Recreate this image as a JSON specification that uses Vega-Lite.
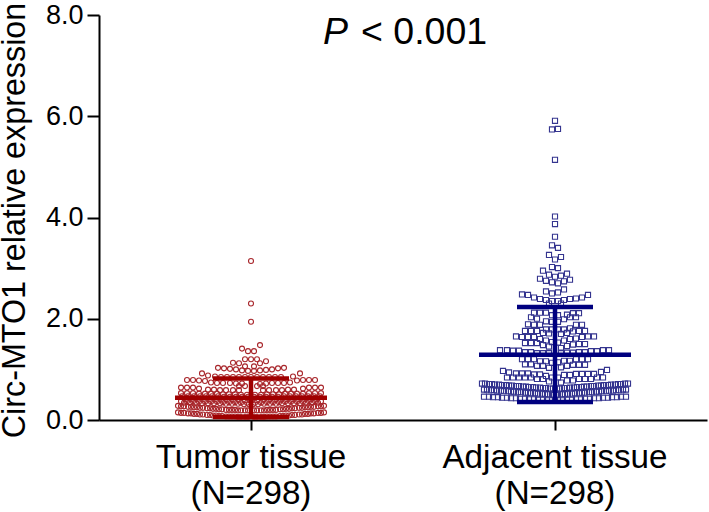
{"$schema":"https://vega.github.io/schema/vega-lite/v6.json","width":608,"height":405,"autosize":"none","padding":{"left":99,"top":15,"right":2,"bottom":92},"background":"white","config":{"view":{"stroke":null},"font":"Liberation Sans"},
"datasets":{
"tumor":[
{"g":"Tumor","d":0,"v":3.14},{"g":"Tumor","d":0,"v":2.3},{"g":"Tumor","d":0,"v":1.94},{"g":"Tumor","d":9,"v":1.48},{"g":"Tumor","d":-9,"v":1.41},{"g":"Tumor","d":-3,"v":1.36},{"g":"Tumor","d":3,"v":1.36},{"g":"Tumor","d":-6,"v":1.2},{"g":"Tumor","d":0,"v":1.2},{"g":"Tumor","d":6,"v":1.2},{"g":"Tumor","d":15,"v":1.16},{"g":"Tumor","d":-18,"v":1.13},{"g":"Tumor","d":-12,"v":1.12},{"g":"Tumor","d":9,"v":1.12},{"g":"Tumor","d":-6,"v":1.06},{"g":"Tumor","d":3,"v":1.06},
{"g":"Tumor","d":-33,"v":1.03},{"g":"Tumor","d":-27,"v":1.02},{"g":"Tumor","d":-21,"v":1.01},{"g":"Tumor","d":-15,"v":1.0},{"g":"Tumor","d":-9,"v":0.98},{"g":"Tumor","d":-3,"v":0.97},{"g":"Tumor","d":3,"v":0.97},{"g":"Tumor","d":9,"v":0.98},{"g":"Tumor","d":15,"v":0.99},{"g":"Tumor","d":21,"v":1.0},{"g":"Tumor","d":27,"v":1.02},{"g":"Tumor","d":33,"v":1.03},
{"g":"Tumor","d":-49,"v":0.92},{"g":"Tumor","d":-43,"v":0.88},{"g":"Tumor","d":-36,"v":0.86},{"g":"Tumor","d":42,"v":0.86},{"g":"Tumor","d":49,"v":0.92},
{"g":"Tumor","d":-30,"v":0.85},{"g":"Tumor","d":-24,"v":0.85},{"g":"Tumor","d":-18,"v":0.85},{"g":"Tumor","d":-12,"v":0.85},{"g":"Tumor","d":-6,"v":0.85},{"g":"Tumor","d":0,"v":0.85},{"g":"Tumor","d":6,"v":0.85},{"g":"Tumor","d":12,"v":0.85},{"g":"Tumor","d":18,"v":0.85},{"g":"Tumor","d":24,"v":0.85},{"g":"Tumor","d":30,"v":0.85},
{"g":"Tumor","d":-64,"v":0.79},{"g":"Tumor","d":-58,"v":0.79},{"g":"Tumor","d":-52,"v":0.78},{"g":"Tumor","d":-46,"v":0.77},{"g":"Tumor","d":-40,"v":0.74},{"g":"Tumor","d":-34,"v":0.73},{"g":"Tumor","d":-28,"v":0.73},{"g":"Tumor","d":-21,"v":0.73},{"g":"Tumor","d":-15,"v":0.72},{"g":"Tumor","d":-9,"v":0.72},{"g":"Tumor","d":64,"v":0.79},{"g":"Tumor","d":58,"v":0.79},{"g":"Tumor","d":52,"v":0.79},{"g":"Tumor","d":46,"v":0.78},{"g":"Tumor","d":39,"v":0.74},{"g":"Tumor","d":33,"v":0.73},{"g":"Tumor","d":27,"v":0.73},{"g":"Tumor","d":21,"v":0.73},{"g":"Tumor","d":15,"v":0.72},{"g":"Tumor","d":9,"v":0.71},
{"g":"Tumor","d":-70,"v":0.64},{"g":"Tumor","d":-64,"v":0.64},{"g":"Tumor","d":-58,"v":0.64},{"g":"Tumor","d":-52,"v":0.62},{"g":"Tumor","d":-43,"v":0.6},{"g":"Tumor","d":-37,"v":0.6},{"g":"Tumor","d":-31,"v":0.59},{"g":"Tumor","d":-25,"v":0.59},{"g":"Tumor","d":-18,"v":0.59},{"g":"Tumor","d":-12,"v":0.59},{"g":"Tumor","d":70,"v":0.64},{"g":"Tumor","d":64,"v":0.64},{"g":"Tumor","d":58,"v":0.64},{"g":"Tumor","d":52,"v":0.62},{"g":"Tumor","d":43,"v":0.6},{"g":"Tumor","d":37,"v":0.6},{"g":"Tumor","d":31,"v":0.59},{"g":"Tumor","d":25,"v":0.59},{"g":"Tumor","d":18,"v":0.59},{"g":"Tumor","d":12,"v":0.59},{"g":"Tumor","d":-12,"v":0.67},{"g":"Tumor","d":-6,"v":0.67},{"g":"Tumor","d":6,"v":0.67},{"g":"Tumor","d":12,"v":0.67},
{"g":"Tumor","d":-70,"v":0.53},{"g":"Tumor","d":-64,"v":0.53},{"g":"Tumor","d":-58,"v":0.53},{"g":"Tumor","d":-52,"v":0.52},{"g":"Tumor","d":-46,"v":0.52},{"g":"Tumor","d":-40,"v":0.52},{"g":"Tumor","d":-34,"v":0.52},{"g":"Tumor","d":-28,"v":0.51},{"g":"Tumor","d":-22,"v":0.51},{"g":"Tumor","d":-16,"v":0.51},{"g":"Tumor","d":-10,"v":0.5},{"g":"Tumor","d":-4,"v":0.5},{"g":"Tumor","d":70,"v":0.53},{"g":"Tumor","d":64,"v":0.53},{"g":"Tumor","d":58,"v":0.53},{"g":"Tumor","d":52,"v":0.52},{"g":"Tumor","d":46,"v":0.52},{"g":"Tumor","d":40,"v":0.52},{"g":"Tumor","d":34,"v":0.52},{"g":"Tumor","d":28,"v":0.51},{"g":"Tumor","d":22,"v":0.51},{"g":"Tumor","d":16,"v":0.51},{"g":"Tumor","d":10,"v":0.5},{"g":"Tumor","d":4,"v":0.5},
{"g":"Tumor","d":-69,"v":0.47},{"g":"Tumor","d":-63,"v":0.47},{"g":"Tumor","d":-57,"v":0.47},{"g":"Tumor","d":-51,"v":0.47},{"g":"Tumor","d":-45,"v":0.47},{"g":"Tumor","d":-39,"v":0.47},{"g":"Tumor","d":-33,"v":0.47},{"g":"Tumor","d":-27,"v":0.46},{"g":"Tumor","d":-21,"v":0.46},{"g":"Tumor","d":-15,"v":0.46},{"g":"Tumor","d":-9,"v":0.46},{"g":"Tumor","d":-3,"v":0.46},{"g":"Tumor","d":69,"v":0.47},{"g":"Tumor","d":63,"v":0.47},{"g":"Tumor","d":57,"v":0.47},{"g":"Tumor","d":51,"v":0.47},{"g":"Tumor","d":45,"v":0.47},{"g":"Tumor","d":39,"v":0.47},{"g":"Tumor","d":33,"v":0.47},{"g":"Tumor","d":27,"v":0.46},{"g":"Tumor","d":21,"v":0.46},{"g":"Tumor","d":15,"v":0.46},{"g":"Tumor","d":9,"v":0.46},{"g":"Tumor","d":3,"v":0.46},
{"g":"Tumor","d":-66,"v":0.41},{"g":"Tumor","d":-60,"v":0.41},{"g":"Tumor","d":-54,"v":0.41},{"g":"Tumor","d":-48,"v":0.41},{"g":"Tumor","d":-42,"v":0.41},{"g":"Tumor","d":-36,"v":0.41},{"g":"Tumor","d":-30,"v":0.4},{"g":"Tumor","d":-24,"v":0.4},{"g":"Tumor","d":-18,"v":0.4},{"g":"Tumor","d":-12,"v":0.4},{"g":"Tumor","d":-6,"v":0.39},{"g":"Tumor","d":-1,"v":0.39},{"g":"Tumor","d":66,"v":0.41},{"g":"Tumor","d":60,"v":0.41},{"g":"Tumor","d":54,"v":0.41},{"g":"Tumor","d":48,"v":0.41},{"g":"Tumor","d":42,"v":0.41},{"g":"Tumor","d":36,"v":0.41},{"g":"Tumor","d":30,"v":0.4},{"g":"Tumor","d":24,"v":0.4},{"g":"Tumor","d":18,"v":0.4},{"g":"Tumor","d":12,"v":0.4},{"g":"Tumor","d":6,"v":0.39},{"g":"Tumor","d":1,"v":0.39},
{"g":"Tumor","d":-70,"v":0.37},{"g":"Tumor","d":-64,"v":0.37},{"g":"Tumor","d":-58,"v":0.37},{"g":"Tumor","d":-52,"v":0.36},{"g":"Tumor","d":-46,"v":0.36},{"g":"Tumor","d":-40,"v":0.36},{"g":"Tumor","d":-34,"v":0.36},{"g":"Tumor","d":-28,"v":0.35},{"g":"Tumor","d":-22,"v":0.35},{"g":"Tumor","d":-16,"v":0.35},{"g":"Tumor","d":-10,"v":0.34},{"g":"Tumor","d":-4,"v":0.34},{"g":"Tumor","d":70,"v":0.37},{"g":"Tumor","d":64,"v":0.37},{"g":"Tumor","d":58,"v":0.37},{"g":"Tumor","d":52,"v":0.36},{"g":"Tumor","d":46,"v":0.36},{"g":"Tumor","d":40,"v":0.36},{"g":"Tumor","d":34,"v":0.36},{"g":"Tumor","d":28,"v":0.35},{"g":"Tumor","d":22,"v":0.35},{"g":"Tumor","d":16,"v":0.35},{"g":"Tumor","d":10,"v":0.34},{"g":"Tumor","d":4,"v":0.34},
{"g":"Tumor","d":-67,"v":0.34},{"g":"Tumor","d":-61,"v":0.34},{"g":"Tumor","d":-55,"v":0.34},{"g":"Tumor","d":-49,"v":0.33},{"g":"Tumor","d":-43,"v":0.33},{"g":"Tumor","d":-37,"v":0.33},{"g":"Tumor","d":-31,"v":0.33},{"g":"Tumor","d":-25,"v":0.32},{"g":"Tumor","d":-19,"v":0.32},{"g":"Tumor","d":-13,"v":0.32},{"g":"Tumor","d":-7,"v":0.31},{"g":"Tumor","d":-2,"v":0.31},{"g":"Tumor","d":67,"v":0.34},{"g":"Tumor","d":61,"v":0.34},{"g":"Tumor","d":55,"v":0.34},{"g":"Tumor","d":49,"v":0.33},{"g":"Tumor","d":43,"v":0.33},{"g":"Tumor","d":37,"v":0.33},{"g":"Tumor","d":31,"v":0.33},{"g":"Tumor","d":25,"v":0.32},{"g":"Tumor","d":19,"v":0.32},{"g":"Tumor","d":13,"v":0.32},{"g":"Tumor","d":7,"v":0.31},{"g":"Tumor","d":2,"v":0.31},
{"g":"Tumor","d":-73,"v":0.28},{"g":"Tumor","d":-70,"v":0.27},{"g":"Tumor","d":-67,"v":0.27},{"g":"Tumor","d":-63,"v":0.26},{"g":"Tumor","d":-60,"v":0.26},{"g":"Tumor","d":-57,"v":0.25},{"g":"Tumor","d":-54,"v":0.25},{"g":"Tumor","d":-51,"v":0.24},{"g":"Tumor","d":-48,"v":0.24},{"g":"Tumor","d":-44,"v":0.23},{"g":"Tumor","d":-41,"v":0.23},{"g":"Tumor","d":-38,"v":0.22},{"g":"Tumor","d":-35,"v":0.22},{"g":"Tumor","d":-32,"v":0.21},{"g":"Tumor","d":-29,"v":0.21},{"g":"Tumor","d":-25,"v":0.2},{"g":"Tumor","d":-22,"v":0.2},{"g":"Tumor","d":-19,"v":0.2},{"g":"Tumor","d":-16,"v":0.2},{"g":"Tumor","d":-13,"v":0.19},{"g":"Tumor","d":-10,"v":0.19},{"g":"Tumor","d":-6,"v":0.19},{"g":"Tumor","d":-3,"v":0.19},
{"g":"Tumor","d":73,"v":0.28},{"g":"Tumor","d":70,"v":0.27},{"g":"Tumor","d":67,"v":0.27},{"g":"Tumor","d":63,"v":0.26},{"g":"Tumor","d":60,"v":0.26},{"g":"Tumor","d":57,"v":0.25},{"g":"Tumor","d":54,"v":0.25},{"g":"Tumor","d":51,"v":0.24},{"g":"Tumor","d":48,"v":0.24},{"g":"Tumor","d":44,"v":0.23},{"g":"Tumor","d":41,"v":0.23},{"g":"Tumor","d":38,"v":0.22},{"g":"Tumor","d":35,"v":0.22},{"g":"Tumor","d":32,"v":0.21},{"g":"Tumor","d":29,"v":0.21},{"g":"Tumor","d":25,"v":0.2},{"g":"Tumor","d":22,"v":0.2},{"g":"Tumor","d":19,"v":0.2},{"g":"Tumor","d":16,"v":0.2},{"g":"Tumor","d":13,"v":0.19},{"g":"Tumor","d":10,"v":0.19},{"g":"Tumor","d":6,"v":0.19},{"g":"Tumor","d":3,"v":0.19},
{"g":"Tumor","d":-73,"v":0.15},{"g":"Tumor","d":-70,"v":0.14},{"g":"Tumor","d":-67,"v":0.14},{"g":"Tumor","d":-63,"v":0.13},{"g":"Tumor","d":-60,"v":0.13},{"g":"Tumor","d":-57,"v":0.12},{"g":"Tumor","d":-54,"v":0.12},{"g":"Tumor","d":-51,"v":0.11},{"g":"Tumor","d":-48,"v":0.11},{"g":"Tumor","d":-44,"v":0.1},{"g":"Tumor","d":-41,"v":0.1},{"g":"Tumor","d":-38,"v":0.09},{"g":"Tumor","d":-35,"v":0.09},{"g":"Tumor","d":-32,"v":0.08},{"g":"Tumor","d":-29,"v":0.08},{"g":"Tumor","d":-25,"v":0.07},{"g":"Tumor","d":-22,"v":0.07},{"g":"Tumor","d":-19,"v":0.07},{"g":"Tumor","d":-16,"v":0.07},{"g":"Tumor","d":-13,"v":0.06},{"g":"Tumor","d":-10,"v":0.06},{"g":"Tumor","d":-6,"v":0.06},{"g":"Tumor","d":-3,"v":0.06},
{"g":"Tumor","d":73,"v":0.15},{"g":"Tumor","d":70,"v":0.14},{"g":"Tumor","d":67,"v":0.14},{"g":"Tumor","d":63,"v":0.13},{"g":"Tumor","d":60,"v":0.13},{"g":"Tumor","d":57,"v":0.12},{"g":"Tumor","d":54,"v":0.12},{"g":"Tumor","d":51,"v":0.11},{"g":"Tumor","d":48,"v":0.11},{"g":"Tumor","d":44,"v":0.1},{"g":"Tumor","d":41,"v":0.1},{"g":"Tumor","d":38,"v":0.09},{"g":"Tumor","d":35,"v":0.09},{"g":"Tumor","d":32,"v":0.08},{"g":"Tumor","d":29,"v":0.08},{"g":"Tumor","d":25,"v":0.07},{"g":"Tumor","d":22,"v":0.07},{"g":"Tumor","d":19,"v":0.07},{"g":"Tumor","d":16,"v":0.07},{"g":"Tumor","d":13,"v":0.06},{"g":"Tumor","d":10,"v":0.06},{"g":"Tumor","d":6,"v":0.06},{"g":"Tumor","d":3,"v":0.06}
],
"adjacent":[
{"g":"Adjacent","d":0,"v":5.91},{"g":"Adjacent","d":3,"v":5.75},{"g":"Adjacent","d":-3,"v":5.74},{"g":"Adjacent","d":0,"v":5.14},{"g":"Adjacent","d":0,"v":4.02},{"g":"Adjacent","d":0,"v":3.87},{"g":"Adjacent","d":0,"v":3.62},{"g":"Adjacent","d":-3,"v":3.45},{"g":"Adjacent","d":3,"v":3.4},{"g":"Adjacent","d":-6,"v":3.26},{"g":"Adjacent","d":6,"v":3.22},{"g":"Adjacent","d":0,"v":3.17},{"g":"Adjacent","d":-3,"v":3.02},{"g":"Adjacent","d":3,"v":3.0},{"g":"Adjacent","d":-12,"v":2.95},{"g":"Adjacent","d":-6,"v":2.87},{"g":"Adjacent","d":12,"v":2.89},{"g":"Adjacent","d":0,"v":2.83},{"g":"Adjacent","d":6,"v":2.85},
{"g":"Adjacent","d":-15,"v":2.79},{"g":"Adjacent","d":-9,"v":2.75},{"g":"Adjacent","d":-3,"v":2.72},{"g":"Adjacent","d":3,"v":2.7},{"g":"Adjacent","d":9,"v":2.74},{"g":"Adjacent","d":15,"v":2.77},{"g":"Adjacent","d":9,"v":2.58},{"g":"Adjacent","d":-9,"v":2.54},{"g":"Adjacent","d":-3,"v":2.5},{"g":"Adjacent","d":3,"v":2.52},
{"g":"Adjacent","d":-33,"v":2.48},{"g":"Adjacent","d":-27,"v":2.47},{"g":"Adjacent","d":-21,"v":2.42},{"g":"Adjacent","d":-15,"v":2.39},{"g":"Adjacent","d":-9,"v":2.37},{"g":"Adjacent","d":-3,"v":2.35},{"g":"Adjacent","d":3,"v":2.35},{"g":"Adjacent","d":9,"v":2.37},{"g":"Adjacent","d":15,"v":2.39},{"g":"Adjacent","d":21,"v":2.4},{"g":"Adjacent","d":27,"v":2.42},{"g":"Adjacent","d":33,"v":2.47},{"g":"Adjacent","d":-6,"v":2.3},{"g":"Adjacent","d":6,"v":2.3},
{"g":"Adjacent","d":-21,"v":2.12},{"g":"Adjacent","d":-15,"v":2.12},{"g":"Adjacent","d":-9,"v":2.12},{"g":"Adjacent","d":-3,"v":2.07},{"g":"Adjacent","d":3,"v":2.07},{"g":"Adjacent","d":18,"v":2.11},{"g":"Adjacent","d":24,"v":2.11},{"g":"Adjacent","d":12,"v":2.08},{"g":"Adjacent","d":-24,"v":2.03},{"g":"Adjacent","d":-18,"v":2.0},{"g":"Adjacent","d":15,"v":2.03},{"g":"Adjacent","d":21,"v":2.03},{"g":"Adjacent","d":9,"v":1.99},{"g":"Adjacent","d":-9,"v":1.95},{"g":"Adjacent","d":-3,"v":1.94},{"g":"Adjacent","d":3,"v":1.94},{"g":"Adjacent","d":-27,"v":1.89},{"g":"Adjacent","d":-21,"v":1.88},{"g":"Adjacent","d":-15,"v":1.88},{"g":"Adjacent","d":21,"v":1.88},{"g":"Adjacent","d":27,"v":1.88},
{"g":"Adjacent","d":-9,"v":1.79},{"g":"Adjacent","d":-3,"v":1.79},{"g":"Adjacent","d":3,"v":1.79},{"g":"Adjacent","d":15,"v":1.81},{"g":"Adjacent","d":9,"v":1.79},{"g":"Adjacent","d":-30,"v":1.76},{"g":"Adjacent","d":-24,"v":1.76},{"g":"Adjacent","d":-18,"v":1.76},{"g":"Adjacent","d":-12,"v":1.72},{"g":"Adjacent","d":-6,"v":1.71},{"g":"Adjacent","d":6,"v":1.7},{"g":"Adjacent","d":12,"v":1.72},{"g":"Adjacent","d":18,"v":1.75},{"g":"Adjacent","d":24,"v":1.76},{"g":"Adjacent","d":30,"v":1.76},
{"g":"Adjacent","d":-39,"v":1.65},{"g":"Adjacent","d":-33,"v":1.64},{"g":"Adjacent","d":-27,"v":1.64},{"g":"Adjacent","d":-21,"v":1.64},{"g":"Adjacent","d":-15,"v":1.6},{"g":"Adjacent","d":-9,"v":1.57},{"g":"Adjacent","d":-3,"v":1.54},{"g":"Adjacent","d":3,"v":1.53},{"g":"Adjacent","d":9,"v":1.57},{"g":"Adjacent","d":15,"v":1.6},{"g":"Adjacent","d":21,"v":1.61},{"g":"Adjacent","d":27,"v":1.64},{"g":"Adjacent","d":33,"v":1.65},{"g":"Adjacent","d":39,"v":1.65},
{"g":"Adjacent","d":-30,"v":1.52},{"g":"Adjacent","d":-24,"v":1.52},{"g":"Adjacent","d":-18,"v":1.52},{"g":"Adjacent","d":-12,"v":1.48},{"g":"Adjacent","d":-6,"v":1.45},{"g":"Adjacent","d":6,"v":1.42},{"g":"Adjacent","d":12,"v":1.46},{"g":"Adjacent","d":18,"v":1.49},{"g":"Adjacent","d":24,"v":1.5},{"g":"Adjacent","d":30,"v":1.5},
{"g":"Adjacent","d":-55,"v":1.38},{"g":"Adjacent","d":-48,"v":1.38},{"g":"Adjacent","d":-42,"v":1.37},{"g":"Adjacent","d":-36,"v":1.37},{"g":"Adjacent","d":-30,"v":1.34},{"g":"Adjacent","d":-24,"v":1.34},{"g":"Adjacent","d":-18,"v":1.32},{"g":"Adjacent","d":-12,"v":1.32},{"g":"Adjacent","d":-6,"v":1.32},{"g":"Adjacent","d":6,"v":1.33},{"g":"Adjacent","d":12,"v":1.33},{"g":"Adjacent","d":18,"v":1.33},{"g":"Adjacent","d":24,"v":1.34},{"g":"Adjacent","d":30,"v":1.34},{"g":"Adjacent","d":36,"v":1.36},{"g":"Adjacent","d":42,"v":1.36},{"g":"Adjacent","d":48,"v":1.38},{"g":"Adjacent","d":54,"v":1.38},
{"g":"Adjacent","d":-33,"v":1.2},{"g":"Adjacent","d":-27,"v":1.2},{"g":"Adjacent","d":-21,"v":1.2},{"g":"Adjacent","d":-15,"v":1.16},{"g":"Adjacent","d":-9,"v":1.16},{"g":"Adjacent","d":-3,"v":1.13},{"g":"Adjacent","d":3,"v":1.14},{"g":"Adjacent","d":9,"v":1.17},{"g":"Adjacent","d":15,"v":1.17},{"g":"Adjacent","d":21,"v":1.2},{"g":"Adjacent","d":27,"v":1.2},{"g":"Adjacent","d":33,"v":1.2},
{"g":"Adjacent","d":-30,"v":1.1},{"g":"Adjacent","d":-24,"v":1.1},{"g":"Adjacent","d":-18,"v":1.07},{"g":"Adjacent","d":-12,"v":1.07},{"g":"Adjacent","d":-6,"v":1.03},{"g":"Adjacent","d":6,"v":1.04},{"g":"Adjacent","d":12,"v":1.07},{"g":"Adjacent","d":18,"v":1.09},{"g":"Adjacent","d":24,"v":1.09},{"g":"Adjacent","d":30,"v":1.09},
{"g":"Adjacent","d":-52,"v":0.97},{"g":"Adjacent","d":-46,"v":0.94},{"g":"Adjacent","d":-39,"v":0.92},{"g":"Adjacent","d":-33,"v":0.92},{"g":"Adjacent","d":-27,"v":0.92},{"g":"Adjacent","d":-21,"v":0.9},{"g":"Adjacent","d":-15,"v":0.9},{"g":"Adjacent","d":-9,"v":0.87},{"g":"Adjacent","d":-3,"v":0.84},{"g":"Adjacent","d":3,"v":0.84},{"g":"Adjacent","d":9,"v":0.89},{"g":"Adjacent","d":15,"v":0.89},{"g":"Adjacent","d":21,"v":0.91},{"g":"Adjacent","d":27,"v":0.91},{"g":"Adjacent","d":33,"v":0.91},{"g":"Adjacent","d":39,"v":0.91},{"g":"Adjacent","d":46,"v":0.95},{"g":"Adjacent","d":52,"v":0.99},
{"g":"Adjacent","d":-48,"v":0.84},{"g":"Adjacent","d":-42,"v":0.84},{"g":"Adjacent","d":-36,"v":0.84},{"g":"Adjacent","d":-30,"v":0.84},{"g":"Adjacent","d":-24,"v":0.84},{"g":"Adjacent","d":-18,"v":0.81},{"g":"Adjacent","d":-12,"v":0.81},{"g":"Adjacent","d":-6,"v":0.76},{"g":"Adjacent","d":6,"v":0.74},{"g":"Adjacent","d":12,"v":0.78},{"g":"Adjacent","d":18,"v":0.78},{"g":"Adjacent","d":24,"v":0.81},{"g":"Adjacent","d":30,"v":0.81},{"g":"Adjacent","d":36,"v":0.81},{"g":"Adjacent","d":42,"v":0.84},{"g":"Adjacent","d":48,"v":0.84},
{"g":"Adjacent","d":-73,"v":0.72},{"g":"Adjacent","d":-70,"v":0.72},{"g":"Adjacent","d":-66,"v":0.71},{"g":"Adjacent","d":-63,"v":0.71},{"g":"Adjacent","d":-60,"v":0.7},{"g":"Adjacent","d":-56,"v":0.7},{"g":"Adjacent","d":-53,"v":0.69},{"g":"Adjacent","d":-49,"v":0.69},{"g":"Adjacent","d":-46,"v":0.68},{"g":"Adjacent","d":-43,"v":0.68},{"g":"Adjacent","d":-39,"v":0.67},{"g":"Adjacent","d":-36,"v":0.67},{"g":"Adjacent","d":-32,"v":0.66},{"g":"Adjacent","d":-29,"v":0.66},{"g":"Adjacent","d":-26,"v":0.65},{"g":"Adjacent","d":-22,"v":0.65},{"g":"Adjacent","d":-19,"v":0.64},{"g":"Adjacent","d":-15,"v":0.64},{"g":"Adjacent","d":-12,"v":0.63},{"g":"Adjacent","d":-9,"v":0.63},{"g":"Adjacent","d":-5,"v":0.62},{"g":"Adjacent","d":-2,"v":0.62},
{"g":"Adjacent","d":73,"v":0.72},{"g":"Adjacent","d":70,"v":0.72},{"g":"Adjacent","d":66,"v":0.71},{"g":"Adjacent","d":63,"v":0.71},{"g":"Adjacent","d":60,"v":0.7},{"g":"Adjacent","d":56,"v":0.7},{"g":"Adjacent","d":53,"v":0.69},{"g":"Adjacent","d":49,"v":0.69},{"g":"Adjacent","d":46,"v":0.68},{"g":"Adjacent","d":43,"v":0.68},{"g":"Adjacent","d":39,"v":0.67},{"g":"Adjacent","d":36,"v":0.67},{"g":"Adjacent","d":32,"v":0.66},{"g":"Adjacent","d":29,"v":0.66},{"g":"Adjacent","d":26,"v":0.65},{"g":"Adjacent","d":22,"v":0.65},{"g":"Adjacent","d":19,"v":0.64},{"g":"Adjacent","d":15,"v":0.64},{"g":"Adjacent","d":12,"v":0.63},{"g":"Adjacent","d":9,"v":0.63},{"g":"Adjacent","d":5,"v":0.62},{"g":"Adjacent","d":2,"v":0.62},
{"g":"Adjacent","d":-71,"v":0.6},{"g":"Adjacent","d":-68,"v":0.6},{"g":"Adjacent","d":-64,"v":0.59},{"g":"Adjacent","d":-61,"v":0.59},{"g":"Adjacent","d":-58,"v":0.58},{"g":"Adjacent","d":-54,"v":0.58},{"g":"Adjacent","d":-51,"v":0.57},{"g":"Adjacent","d":-47,"v":0.57},{"g":"Adjacent","d":-44,"v":0.56},{"g":"Adjacent","d":-41,"v":0.56},{"g":"Adjacent","d":-37,"v":0.55},{"g":"Adjacent","d":-34,"v":0.55},{"g":"Adjacent","d":-30,"v":0.54},{"g":"Adjacent","d":-27,"v":0.54},{"g":"Adjacent","d":-24,"v":0.53},{"g":"Adjacent","d":-20,"v":0.53},{"g":"Adjacent","d":-17,"v":0.52},{"g":"Adjacent","d":-13,"v":0.52},{"g":"Adjacent","d":-10,"v":0.51},{"g":"Adjacent","d":-7,"v":0.51},{"g":"Adjacent","d":-3,"v":0.5},{"g":"Adjacent","d":-1,"v":0.5},
{"g":"Adjacent","d":71,"v":0.6},{"g":"Adjacent","d":68,"v":0.6},{"g":"Adjacent","d":64,"v":0.59},{"g":"Adjacent","d":61,"v":0.59},{"g":"Adjacent","d":58,"v":0.58},{"g":"Adjacent","d":54,"v":0.58},{"g":"Adjacent","d":51,"v":0.57},{"g":"Adjacent","d":47,"v":0.57},{"g":"Adjacent","d":44,"v":0.56},{"g":"Adjacent","d":41,"v":0.56},{"g":"Adjacent","d":37,"v":0.55},{"g":"Adjacent","d":34,"v":0.55},{"g":"Adjacent","d":30,"v":0.54},{"g":"Adjacent","d":27,"v":0.54},{"g":"Adjacent","d":24,"v":0.53},{"g":"Adjacent","d":20,"v":0.53},{"g":"Adjacent","d":17,"v":0.52},{"g":"Adjacent","d":13,"v":0.52},{"g":"Adjacent","d":10,"v":0.51},{"g":"Adjacent","d":7,"v":0.51},{"g":"Adjacent","d":3,"v":0.5},{"g":"Adjacent","d":1,"v":0.5},
{"g":"Adjacent","d":-71,"v":0.46},{"g":"Adjacent","d":-66,"v":0.46},{"g":"Adjacent","d":-62,"v":0.45},{"g":"Adjacent","d":-57,"v":0.45},{"g":"Adjacent","d":-53,"v":0.44},{"g":"Adjacent","d":-48,"v":0.44},{"g":"Adjacent","d":-44,"v":0.43},{"g":"Adjacent","d":-39,"v":0.43},{"g":"Adjacent","d":-35,"v":0.42},{"g":"Adjacent","d":-30,"v":0.42},{"g":"Adjacent","d":-26,"v":0.41},{"g":"Adjacent","d":-21,"v":0.41},{"g":"Adjacent","d":-17,"v":0.4},{"g":"Adjacent","d":-12,"v":0.4},{"g":"Adjacent","d":-8,"v":0.39},{"g":"Adjacent","d":-3,"v":0.39},{"g":"Adjacent","d":0,"v":0.38},
{"g":"Adjacent","d":71,"v":0.46},{"g":"Adjacent","d":66,"v":0.46},{"g":"Adjacent","d":62,"v":0.45},{"g":"Adjacent","d":57,"v":0.45},{"g":"Adjacent","d":53,"v":0.44},{"g":"Adjacent","d":48,"v":0.44},{"g":"Adjacent","d":44,"v":0.43},{"g":"Adjacent","d":39,"v":0.43},{"g":"Adjacent","d":35,"v":0.42},{"g":"Adjacent","d":30,"v":0.42},{"g":"Adjacent","d":26,"v":0.41},{"g":"Adjacent","d":21,"v":0.41},{"g":"Adjacent","d":17,"v":0.4},{"g":"Adjacent","d":12,"v":0.4},{"g":"Adjacent","d":8,"v":0.39},{"g":"Adjacent","d":3,"v":0.39}
],
"summary":[
{"g":"Tumor","part":"mean","d":-76,"v":0.44},{"g":"Tumor","part":"mean","d":76,"v":0.44},{"g":"Tumor","part":"upper","d":-38,"v":0.82},{"g":"Tumor","part":"upper","d":38,"v":0.82},{"g":"Tumor","part":"lower","d":-38,"v":0.06},{"g":"Tumor","part":"lower","d":38,"v":0.06},{"g":"Tumor","part":"bar","d":0,"v":0.06},{"g":"Tumor","part":"bar","d":0,"v":0.82}
],
"summary2":[
{"g":"Adjacent","part":"mean","d":-76,"v":1.29},{"g":"Adjacent","part":"mean","d":76,"v":1.29},{"g":"Adjacent","part":"upper","d":-38,"v":2.23},{"g":"Adjacent","part":"upper","d":38,"v":2.23},{"g":"Adjacent","part":"lower","d":-38,"v":0.355},{"g":"Adjacent","part":"lower","d":38,"v":0.355},{"g":"Adjacent","part":"bar","d":0,"v":0.355},{"g":"Adjacent","part":"bar","d":0,"v":2.23}
]
},
"encoding":{
"x":{"field":"g","type":"nominal","scale":{"type":"band","domain":["Tumor","Adjacent"],"paddingInner":0,"paddingOuter":0},"axis":{"title":null,"labelAngle":0,"domainColor":"black","domainWidth":2,"tickColor":"black","tickWidth":2,"tickSize":10,"labelFont":"Liberation Sans","labelFontSize":33.2,"labelColor":"black","labelPadding":11,"labelLineHeight":36,"labelLimit":400,"labelExpr":"datum.value=='Tumor'?['Tumor tissue','(N=298)']:['Adjacent tissue','(N=298)']"}},
"xOffset":{"field":"d","type":"quantitative","scale":{"domain":[-152,152]}},
"y":{"field":"v","type":"quantitative","scale":{"domain":[0,8],"nice":false},"axis":{"title":"Circ-MTO1 relative expression","titleFont":"Liberation Sans","titleFontSize":32.3,"titleFontWeight":"normal","titleColor":"black","titlePadding":14,"titleY":205,"values":[0,2,4,6,8],"format":".1f","grid":false,"domainColor":"black","domainWidth":2,"tickColor":"black","tickWidth":2,"tickSize":12,"labelFont":"Liberation Sans","labelFontSize":27,"labelColor":"black","labelPadding":4}}
},
"layer":[
{"data":{"name":"tumor"},"mark":{"type":"point","shape":"circle","filled":false,"size":25,"stroke":"#a8262b","strokeWidth":1.1,"opacity":1}},
{"data":{"name":"adjacent"},"mark":{"type":"point","shape":"square","filled":false,"size":26,"stroke":"#35358f","strokeWidth":1.1,"opacity":1}},
{"data":{"name":"summary"},"mark":{"type":"line","stroke":"#a00000","strokeWidth":4.5},"encoding":{"detail":{"field":"part"}}},
{"data":{"name":"summary2"},"mark":{"type":"line","stroke":"#00007f","strokeWidth":4.5},"encoding":{"detail":{"field":"part"}}},
{"data":{"values":[{"g":"Tumor","d":72,"v":7.43,"t":"P"}]},"mark":{"type":"text","align":"left","baseline":"alphabetic","font":"Liberation Sans","fontStyle":"italic","fontSize":37.5,"color":"black"},"encoding":{"text":{"field":"t"}}},
{"data":{"values":[{"g":"Tumor","d":110,"v":7.43,"t":"< 0.001"}]},"mark":{"type":"text","align":"left","baseline":"alphabetic","font":"Liberation Sans","fontSize":37.5,"color":"black"},"encoding":{"text":{"field":"t"}}}
]
}
